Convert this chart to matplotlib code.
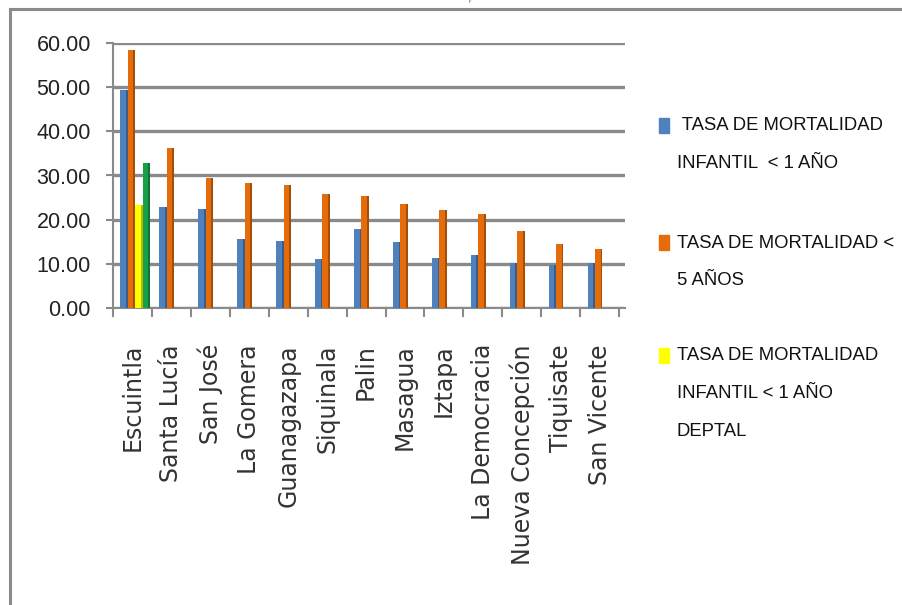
import matplotlib
matplotlib.use("Agg")
import matplotlib.pyplot as plt
import numpy as np
from matplotlib.lines import Line2D
from matplotlib.patches import Rectangle

# ---------------- data ----------------
municipios = ["Escuintla", "Santa Lucía", "San José", "La Gomera", "Guanagazapa",
              "Siquinala", "Palin", "Masagua", "Iztapa", "La Democracia",
              "Nueva Concepción", "Tiquisate", "San Vicente"]
tasa_infantil = [49.4, 22.8, 22.5, 15.7, 15.2, 11.1, 17.8, 15.0, 11.4, 12.0, 10.1, 9.7, 10.1]
tasa_menor5 = [58.4, 36.3, 29.5, 28.3, 27.8, 25.7, 25.3, 23.6, 22.3, 21.3, 17.5, 14.4, 13.3]
tasa_infantil_deptal = [23.3] + [np.nan] * 12
tasa_menor5_deptal = [32.9] + [np.nan] * 12
yticks = [0, 10, 20, 30, 40, 50, 60]
legend_labels = [" TASA DE MORTALIDAD\nINFANTIL  < 1 AÑO",
                 "TASA DE MORTALIDAD <\n5 AÑOS",
                 "TASA DE MORTALIDAD\nINFANTIL < 1 AÑO\nDEPTAL"]
title_text = "Escuintla, Escuintla"

# ---------------- style ----------------
txt_font = "Liberation Sans"
colors = ["#4f81bd", "#e46c0a", "#ffff00", "#16a04a"]
grid_c = "#8a8a8a"

W, H = 903, 605
fig = plt.figure(figsize=(W / 100, H / 100), dpi=100)
fig.patch.set_facecolor("white")

def fx(px):
    return px / W

def fy(py):
    return 1 - py / H

ax = fig.add_axes([fx(113), fy(308), (625 - 113) / W, (308 - 43) / H])
ax.set_facecolor("white")

x = np.arange(len(municipios))
series = [tasa_infantil, tasa_menor5, tasa_infantil_deptal, tasa_menor5_deptal]
bw = 0.19
for k, (vals, c) in enumerate(zip(series, colors)):
    off = (k - 1.5) * bw + 0.07
    ax.bar(x + off, vals, width=bw, color=c, edgecolor="none", zorder=3)
    # darker right face to suggest the 3D look
    shade = tuple(v * 0.72 for v in matplotlib.colors.to_rgb(c))
    ax.bar(x + off + bw * 0.38, vals, width=bw * 0.24, color=shade, edgecolor="none", zorder=4)

ax.set_ylim(0, 60)
ax.set_xlim(-0.5, 12.65)
ax.set_yticks(yticks)
ax.set_yticklabels([f"{v:.2f}" for v in yticks], fontfamily=txt_font, fontsize=15.5, color="#222222")
ax.yaxis.grid(True, color=grid_c, linewidth=2.4, zorder=0)
ax.set_axisbelow(True)

ax.set_xticks(x)
ax.set_xticklabels(municipios, rotation=90, fontfamily="DejaVu Sans", fontsize=17,
                   color="#333333", va="top", ha="center")
ax.tick_params(axis="x", length=0, pad=26)
ax.tick_params(axis="y", length=5, width=1.5, color=grid_c, pad=11)
for b in np.arange(-0.5, 13.0, 1.0):
    ax.plot([b, b], [0, -1.8], color=grid_c, lw=1.5, clip_on=False, zorder=5)

for s in ["top", "right"]:
    ax.spines[s].set_visible(False)
ax.spines["left"].set_color(grid_c)
ax.spines["left"].set_linewidth(1.5)
ax.spines["bottom"].set_color(grid_c)
ax.spines["bottom"].set_linewidth(1.5)

# ---------------- legend (manual) ----------------
entry_y = [126, 243, 356]
line_step = 37.5
for lab, c, y0 in zip(legend_labels, colors[:3], entry_y):
    fig.patches.append(Rectangle((fx(659), fy(y0 + 7)), 10 / W, 15 / H,
                                 transform=fig.transFigure, color=c))
    for i, line in enumerate(lab.split("\n")):
        fig.text(fx(677), fy(y0 + i * line_step), line, fontfamily=txt_font,
                 fontsize=13.3, color="#111111", ha="left", va="center")

# ---------------- frame and clipped title ----------------
fig.add_artist(Line2D([fx(10), fx(10)], [fy(605), fy(9)], transform=fig.transFigure,
                      color="#8a8a8a", lw=2.2))
fig.add_artist(Line2D([fx(10), fx(903)], [fy(9), fy(9)], transform=fig.transFigure,
                      color="#8a8a8a", lw=2.2))
fig.text(fx(472), fy(4), title_text, fontfamily="Liberation Sans", fontsize=13,
         color="#666666", ha="center", va="bottom")

fig.savefig("out.png", dpi=100)
